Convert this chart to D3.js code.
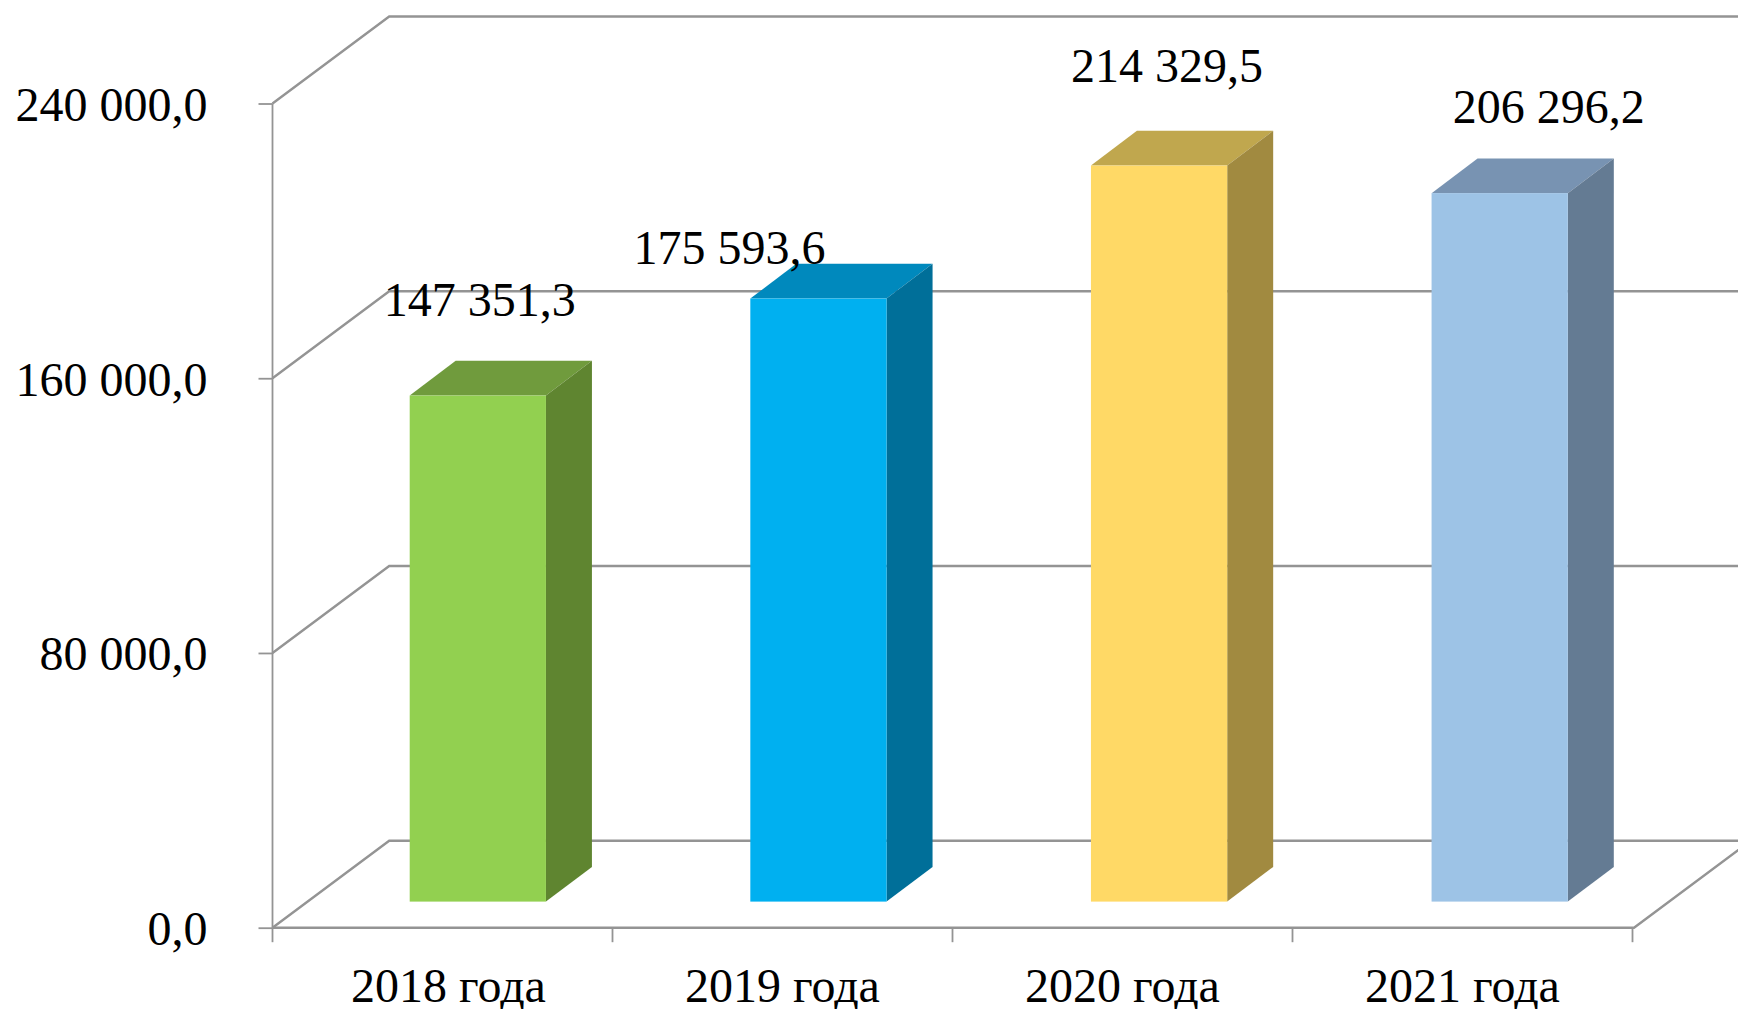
<!DOCTYPE html>
<html lang="ru">
<head>
<meta charset="utf-8">
<script src="https://cdn.jsdelivr.net/npm/d3@7"></script>
<style>
  html, body { margin: 0; padding: 0; background: #fff; }
  svg { display: block; }
  text { font-family: "Liberation Serif", serif; fill: #000; }
</style>
</head>
<body>
<div class="container"></div>
<script>
const categories = ['2018 года', '2019 года', '2020 года', '2021 года'];
const values = [147351.3, 175593.6, 214329.5, 206296.2];
const yTicks = [0, 80000, 160000, 240000];

const frontColors = ['#92d050', '#00b0f0', '#ffd966', '#9dc3e6'];
const topColors = ['#709b3d', '#0089bd', '#c0a74e', '#7893b2'];
const sideColors = ['#5f8530', '#006f99', '#a18a40', '#647b93'];

// the data labels were dragged by hand in the original, so each one has its own nudge
const labelNudgeX = [2, -89, 8, 49];
const labelNudgeY = [-45, 0, -49, -35];

const renderChart = () => {
  const width = 1738;
  const height = 1009;
  const depthX = 116.7;
  const depthY = 87;
  const fontSize = 48;

  const svg = d3.select('.container').append('svg').attr('width', width).attr('height', height);
  const gridColor = '#949494';

  const xScale = d3
    .scaleBand()
    .domain(categories)
    .range([272.5, 1635])
    .paddingInner(0.6)
    .paddingOuter(0.3);

  // same categories without padding, for tick marks and label centres
  const xAxisScale = d3.scaleBand().domain(categories).range([272.5, 1632.5]);

  const yScale = d3.scaleLinear().domain([0, 240000]).range([927.7, 103.5]);

  const locale = d3.formatLocale({ decimal: ',', thousands: ' ', grouping: [3], currency: ['', ''] });
  const formatValue = locale.format(',.1f');

  const x0 = xAxisScale.range()[0];
  const x1 = xAxisScale.range()[1] + 1.5;

  // back wall gridlines and the diagonals of the left wall
  const walls = svg.append('g').attr('class', 'walls').attr('stroke', gridColor).attr('stroke-width', 2.4).attr('fill', 'none');

  walls
    .selectAll('path')
    .data(yTicks)
    .enter()
    .append('path')
    .attr('d', d => `M${x0},${yScale(d)}L${x0 + depthX},${yScale(d) - depthY}H${width}`);

  walls
    .append('path')
    .attr('d', `M${x0},${yScale(0)}H${x1}L${x1 + depthX},${yScale(0) - depthY}`);

  const leftAxis = d3.axisLeft(yScale).tickValues(yTicks).tickFormat(formatValue).tickSize(14).tickPadding(51);
  const leftAxisGroup = svg.append('g').attr('class', 'left-axis').attr('transform', `translate(${x0},0)`);
  leftAxis(leftAxisGroup);

  const bottomAxis = d3.axisBottom(xAxisScale).tickSize(0).tickPadding(0);
  const bottomAxisGroup = svg.append('g').attr('class', 'bottom-axis').attr('transform', `translate(0,${yScale(0)})`);
  bottomAxis(bottomAxisGroup);

  // ticks between the categories
  bottomAxisGroup
    .selectAll('line.edge')
    .data(d3.range(categories.length + 1))
    .enter()
    .append('line')
    .attr('class', 'edge')
    .attr('x1', i => x0 + i * xAxisScale.step())
    .attr('x2', i => x0 + i * xAxisScale.step())
    .attr('y1', 0)
    .attr('y2', 14.5);

  svg.selectAll('.left-axis path.domain, .bottom-axis path.domain').remove();
  leftAxisGroup
    .append('line')
    .attr('y1', yScale(240000))
    .attr('y2', yScale(0));

  svg.selectAll('.left-axis line, .bottom-axis line').attr('stroke', gridColor).attr('stroke-width', 1.8);
  svg.selectAll('.left-axis text, .bottom-axis text').attr('font-size', fontSize);
  leftAxisGroup.selectAll('.tick text').attr('dy', '0.35em');
  bottomAxisGroup
    .selectAll('.tick text')
    .attr('y', 74)
    .attr('dy', 0)
    .attr('dx', (d, i) => (i === 0 ? 6 : 0));

  // bars stand 30% into the depth of the floor and are 40% deep
  const offX = depthX * 0.3;
  const offY = depthY * 0.3;
  const barX = depthX * 0.394;
  const barY = depthY * 0.399;

  const bars = svg
    .append('g')
    .attr('class', 'bars')
    .selectAll('g')
    .data(values)
    .enter()
    .append('g')
    .attr('transform', `translate(${offX},${-offY})`);

  bars
    .append('path')
    .attr('fill', (d, i) => topColors[i])
    .attr('d', (d, i) => {
      const l = xScale(categories[i]);
      const r = l + xScale.bandwidth();
      const t = yScale(d);
      return `M${l},${t}L${l + barX},${t - barY}H${r + barX}L${r},${t}Z`;
    });

  bars
    .append('path')
    .attr('fill', (d, i) => sideColors[i])
    .attr('d', (d, i) => {
      const r = xScale(categories[i]) + xScale.bandwidth();
      const t = yScale(d);
      const b = yScale(0);
      return `M${r},${t}L${r + barX},${t - barY}V${b - barY}L${r},${b}Z`;
    });

  bars
    .append('rect')
    .attr('fill', (d, i) => frontColors[i])
    .attr('x', (d, i) => xScale(categories[i]))
    .attr('y', d => yScale(d))
    .attr('width', xScale.bandwidth())
    .attr('height', d => yScale(0) - yScale(d));

  svg
    .append('g')
    .attr('class', 'labels')
    .selectAll('text')
    .data(values)
    .enter()
    .append('text')
    .attr('font-size', fontSize)
    .attr('text-anchor', 'middle')
    .attr('x', (d, i) => xScale(categories[i]) + xScale.bandwidth() / 2 + offX + labelNudgeX[i])
    .attr('y', (d, i) => yScale(d) - offY - barY + labelNudgeY[i])
    .text(d => formatValue(d));
};

renderChart();
</script>
</body>
</html>
